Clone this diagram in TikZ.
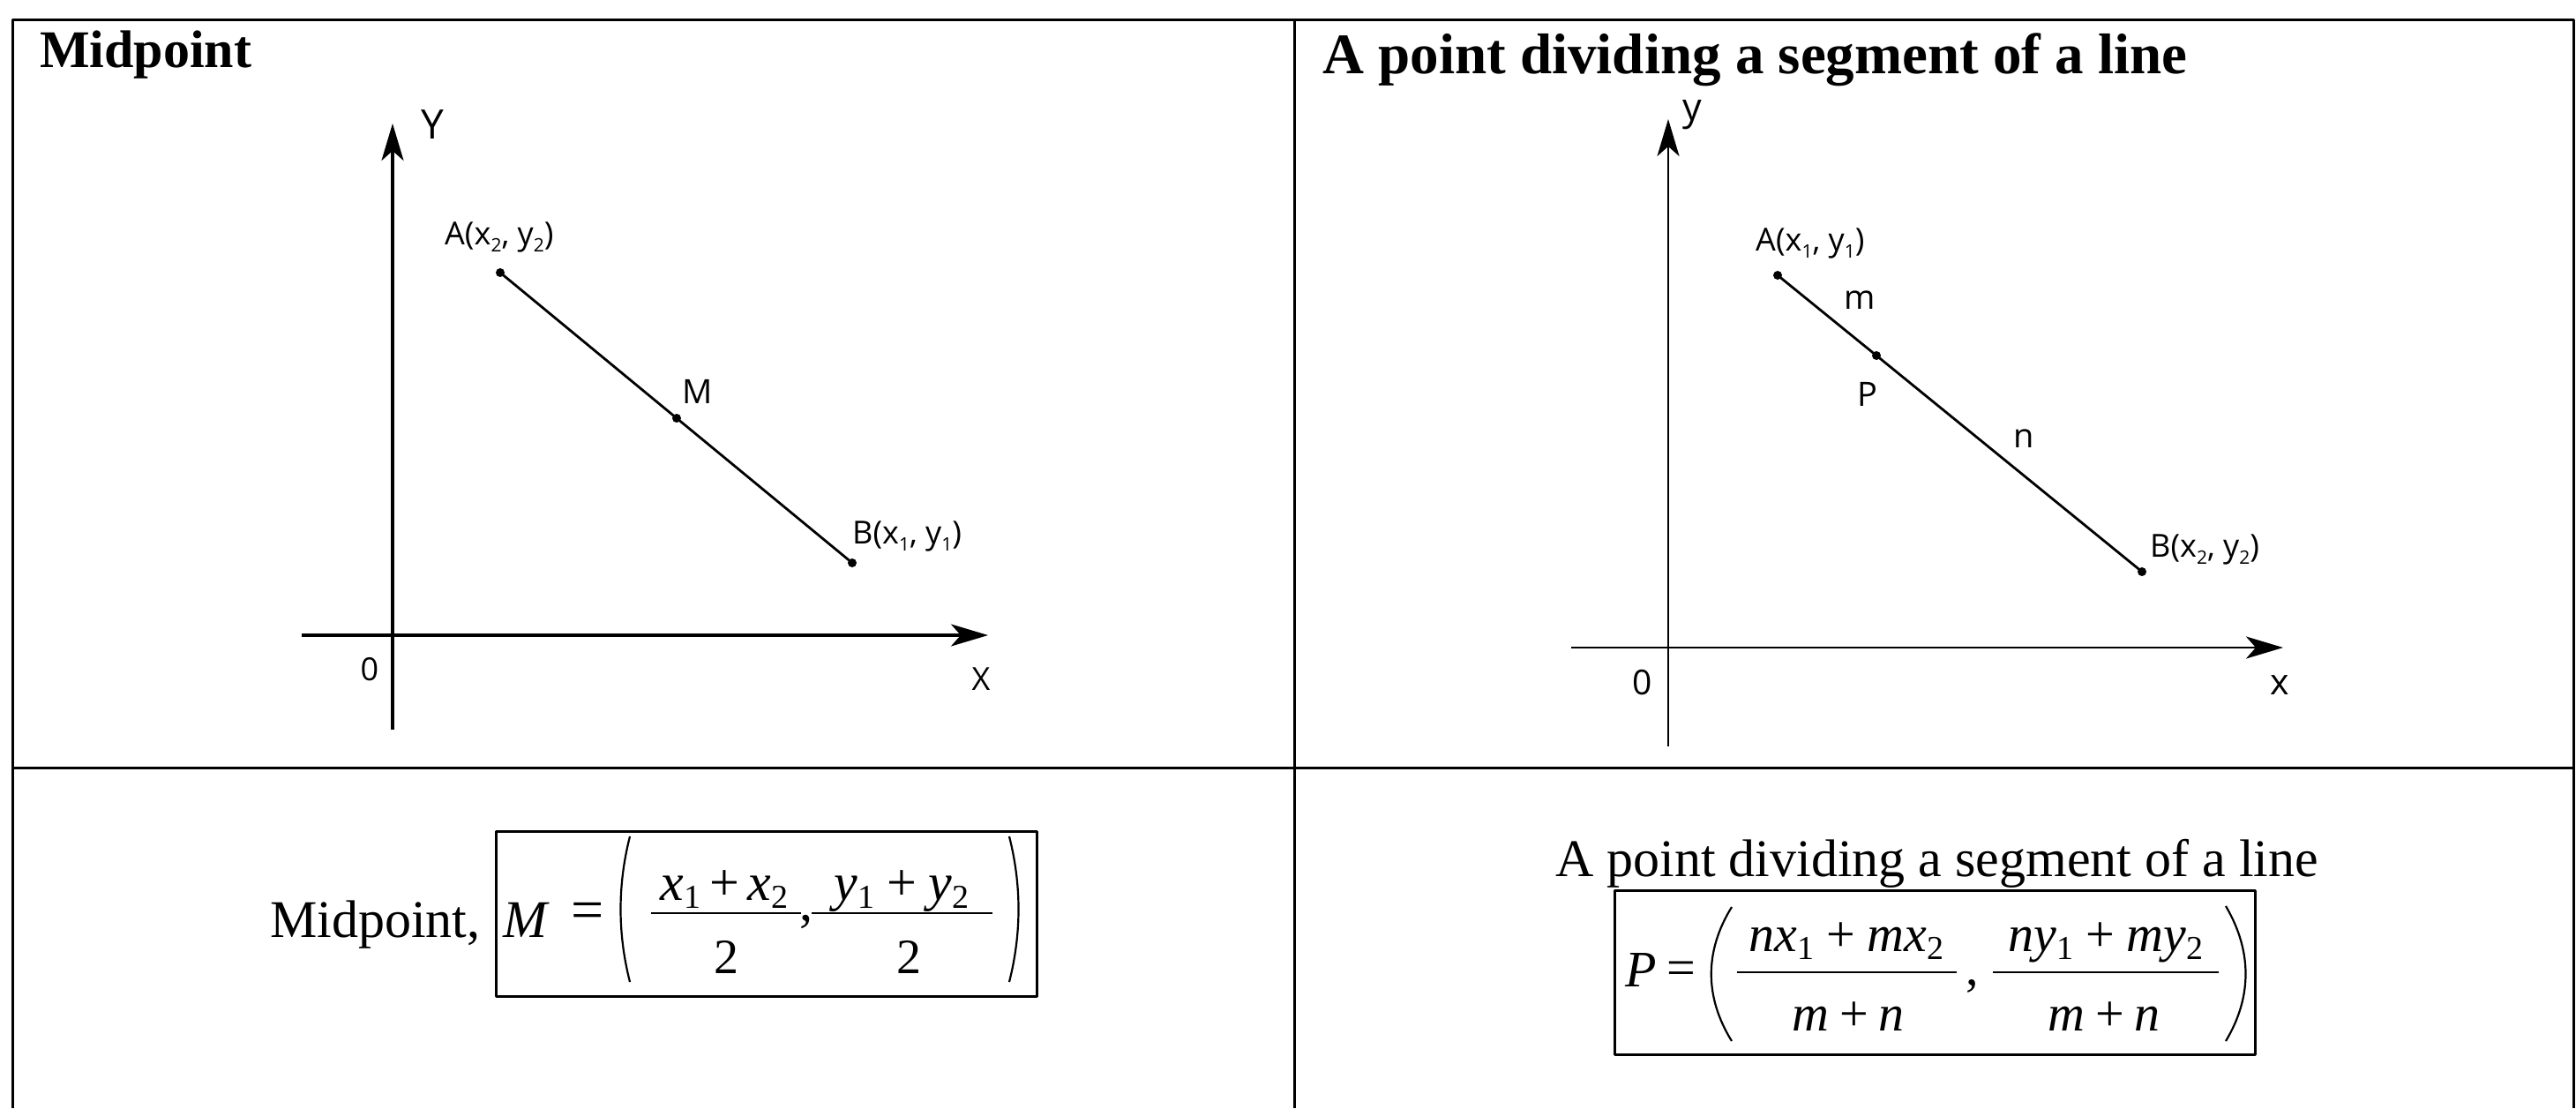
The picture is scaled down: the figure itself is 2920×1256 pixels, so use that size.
\documentclass[tikz,border=0pt]{standalone}
\usepackage{fontspec}
\setmainfont{Liberation Serif}
\newfontfamily\osans{Open Sans}
\usetikzlibrary{arrows.meta}
\newcommand\fsz[1]{\fontsize{#1}{#1}\selectfont}
\newcommand\lsub[1]{\raisebox{-8pt}{\fsz{21}#1}}
\newcommand\msub[1]{\raisebox{-9pt}{\fsz{38}\upshape #1}}
\begin{document}
\begin{tikzpicture}[x=1pt,y=-1pt,line join=round,
  tbl/.style={line width=3pt},
  axisL/.style={line width=3.4pt,-{Stealth[length=42pt,width=25pt,inset=11pt]}},
  axisR/.style={line width=2.6pt,-{Stealth[length=42pt,width=25pt,inset=11pt]}},
  seg/.style={line width=2.8pt},
  dot/.style={circle,fill=black,inner sep=0pt,minimum size=10pt},
  lbl/.style={inner sep=0pt,font=\osans\fsz{36}},
  txt/.style={inner sep=0pt},
  fbar/.style={line width=2.6pt},
  paren/.style={line width=2.2pt},
  boxst/.style={line width=3pt}]
\useasboundingbox (0,0) rectangle (2920,1256);
\fill[white] (0,0) rectangle (2920,1256);
% table
\coordinate (TL) at (14,22); \coordinate (TR) at (2917,22);
\coordinate (BL) at (14,1256); \coordinate (BR) at (2917,1256);
\coordinate (TM) at (1467,22); \coordinate (BM) at (1467,1256);
\coordinate (ML) at (14,870); \coordinate (MR) at (2917,870);
\draw[tbl] (BL) -- (TL) -- (TR) -- (BR);
\draw[tbl] (TM) -- (BM);
\draw[tbl] (ML) -- (MR);
% titles
\node[txt,anchor=base west] (t1) at (45,76) {\fsz{60}\bfseries Midpoint};
\node[txt,anchor=base west] (t2) at (1499,83) {\fsz{65}\bfseries A point dividing a segment of a line};
% ---------- left plot
\coordinate (Y1s) at (445,827); \coordinate (Y1e) at (445,140);
\coordinate (X1s) at (342,720); \coordinate (X1e) at (1120,720);
\draw[axisL] (Y1s) -- (Y1e);
\draw[axisL] (X1s) -- (X1e);
\node[dot] (A1) at (567,309) {};
\node[dot] (M1) at (767,474) {};
\node[dot] (B1) at (966,638) {};
\draw[seg] (A1.center) -- (M1.center) -- (B1.center);
\node[lbl,font=\osans\fsz{46}] (Ylab) at (490,141) {Y};
\node[lbl] (O1) at (419,759) {0};
\node[lbl] (Xlab) at (1112,770) {X};
\node[lbl,anchor=base west] (Alab1) at (504,277) {A(x\lsub{2}, y\lsub{2})};
\node[lbl,font=\osans\fsz{38}] (Mlab) at (791,444) {M};
\node[lbl,anchor=base west] (Blab1) at (966,616) {B(x\lsub{1}, y\lsub{1})};
% ---------- right plot
\coordinate (Y2s) at (1891,846); \coordinate (Y2e) at (1891,135);
\coordinate (X2s) at (1781,734); \coordinate (X2e) at (2588,734);
\draw[axisR] (Y2s) -- (Y2e);
\draw[axisR] (X2s) -- (X2e);
\node[dot] (A2) at (2015,312) {};
\node[dot] (P2) at (2127,403) {};
\node[dot] (B2) at (2428,648) {};
\draw[seg] (A2.center) -- (P2.center) -- (B2.center);
\node[lbl,font=\osans\fsz{43}] (ylab) at (1918,130) {y};
\node[lbl,font=\osans\fsz{39}] (O2) at (1862,774) {0};
\node[lbl,font=\osans\fsz{41}] (xlab) at (2584,777) {x};
\node[lbl,anchor=base west] (Alab2) at (1990,284) {A(x\lsub{1}, y\lsub{1})};
\node[lbl,font=\osans\fsz{38}] (mlab) at (2108,340) {m};
\node[lbl,font=\osans\fsz{38}] (Plab) at (2117,447) {P};
\node[lbl,font=\osans\fsz{38}] (nlab) at (2294,497) {n};
\node[lbl,anchor=base west] (Blab2) at (2437,631) {B(x\lsub{2}, y\lsub{2})};
% ---------- left formula
\draw[boxst] (562,942) rectangle (1175,1129);
\node[txt,anchor=base west] (midw) at (306,1062) {\fsz{60}Midpoint,};
\node[txt,anchor=base west] (Mv) at (570,1062) {\fsz{60}\itshape M};
\node[txt] (eq1) at (666,1038) {\fsz{66}=};
\draw[paren] (714,948) .. controls (700,1003) and (700,1058) .. (714,1113);
\node[txt,anchor=base] (num1) at (821,1020) {\fsz{60}\itshape x\msub{1}\hspace{10pt}\upshape +\hspace{10pt}\itshape x\msub{2}};
\draw[fbar] (738,1035) -- (908,1035);
\node[txt,anchor=base] (den1) at (823,1103) {\fsz{56}2};
\node[txt,anchor=base] (cm1) at (914,1043) {\fsz{60},};
\node[txt,anchor=base] (num2) at (1022,1020) {\fsz{60}\itshape y\msub{1}\hspace{14pt}\upshape +\hspace{14pt}\itshape y\msub{2}};
\draw[fbar] (920,1035) -- (1125,1035);
\node[txt,anchor=base] (den2) at (1030,1103) {\fsz{56}2};
\draw[paren] (1144,948) .. controls (1158,1003) and (1158,1058) .. (1144,1113);
% ---------- right formula
\node[txt,anchor=base west] (apd) at (1763,993) {\fsz{60}A point dividing a segment of a line};
\draw[boxst] (1830,1009) rectangle (2556,1195);
\node[txt,anchor=base west] (Pv) at (1842,1118) {\fsz{58}\itshape P};
\node[txt] (eq2) at (1906,1103) {\fsz{58}=};
\draw[paren] (1963,1028) .. controls (1932,1078) and (1932,1130) .. (1963,1180);
\node[txt,anchor=base] (num3) at (2093,1078) {\fsz{58}\itshape nx\msub{1}\hspace{14pt}\upshape +\hspace{14pt}\itshape mx\msub{2}};
\draw[fbar] (1969,1102) -- (2218,1102);
\node[txt,anchor=base] (den3) at (2095,1168) {\fsz{58}\itshape m\hspace{12pt}\upshape +\hspace{12pt}\itshape n};
\node[txt,anchor=base] (cm2) at (2236,1116) {\fsz{58},};
\node[txt,anchor=base] (num4) at (2387,1078) {\fsz{58}\itshape ny\msub{1}\hspace{14pt}\upshape +\hspace{14pt}\itshape my\msub{2}};
\draw[fbar] (2259,1102) -- (2515,1102);
\node[txt,anchor=base] (den4) at (2385,1168) {\fsz{58}\itshape m\hspace{12pt}\upshape +\hspace{12pt}\itshape n};
\draw[paren] (2523,1027) .. controls (2553,1078) and (2553,1130) .. (2523,1180);
\end{tikzpicture}
\end{document}
